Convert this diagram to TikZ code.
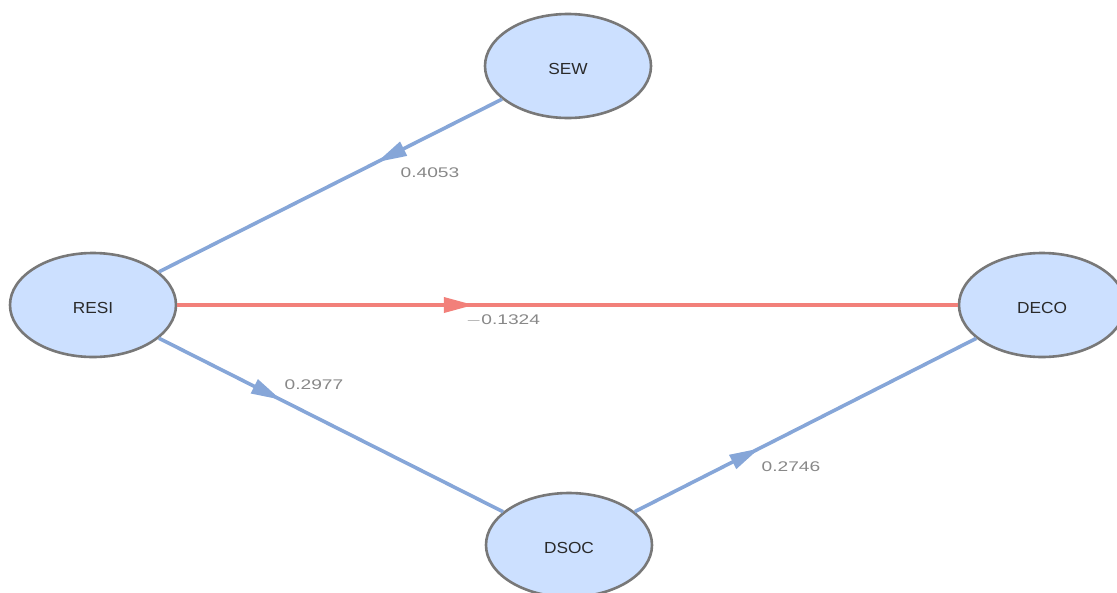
\documentclass[tikz,border=0pt]{standalone}
\usepackage{fontspec}
\usepackage{graphicx}
\setmainfont{Liberation Sans}
\usetikzlibrary{shapes.geometric,arrows.meta,decorations.markings}
\definecolor{nodefill}{HTML}{CCE0FF}
\definecolor{nodeborder}{HTML}{787878}
\definecolor{edgeblue}{HTML}{86A6D8}
\definecolor{edgered}{HTML}{F2807A}
\definecolor{labelgray}{HTML}{888888}
\definecolor{nodetext}{HTML}{2A2A2A}
\newcommand\lblstretch[1]{\scalebox{1.37}[1]{#1}}
\newcommand\nodestretch[1]{\raisebox{-2.5pt}[\height][\depth]{\scalebox{1.08}[1]{#1}}}
\tikzset{
  latent/.style={ellipse, draw=nodeborder, line width=2.6pt, fill=nodefill,
    minimum width=166pt, minimum height=104pt, inner sep=0pt,
    text=nodetext, font=\fontsize{16}{19}\selectfont},
  pathedge/.style 2 args={line width=3.6pt, draw=#1,
    postaction={decorate, decoration={markings,
      mark=at position #2 with {\arrow[#1]{Triangle[length=30pt,width=15pt]}}}}},
  coef/.style={text=labelgray, font=\fontsize{14}{17}\selectfont, inner sep=0pt}
}
\begin{document}
\begin{tikzpicture}[x=1pt,y=-1pt]
\useasboundingbox (0,0) rectangle (1117,592);
\node[latent] (sew)  at (568,66)  {\nodestretch{SEW}};
\node[latent] (resi) at (93,305)  {\nodestretch{RESI}};
\node[latent] (deco) at (1042,305) {\nodestretch{DECO}};
\node[latent] (dsoc) at (569,545) {\nodestretch{DSOC}};
\draw[pathedge={edgeblue}{0.365}] (sew) -- (resi);
\draw[pathedge={edgered}{0.38}] (resi) -- (deco);
\draw[pathedge={edgeblue}{0.355}] (resi) -- (dsoc);
\draw[pathedge={edgeblue}{0.365}] (dsoc) -- (deco);
\node[coef] (l1) at (430,173) {\lblstretch{0.4053}};
\node[coef] (l2) at (503,320) {\lblstretch{$-$0.1324}};
\node[coef] (l3) at (314,385) {\lblstretch{0.2977}};
\node[coef] (l4) at (791,467) {\lblstretch{0.2746}};
\end{tikzpicture}
\end{document}
